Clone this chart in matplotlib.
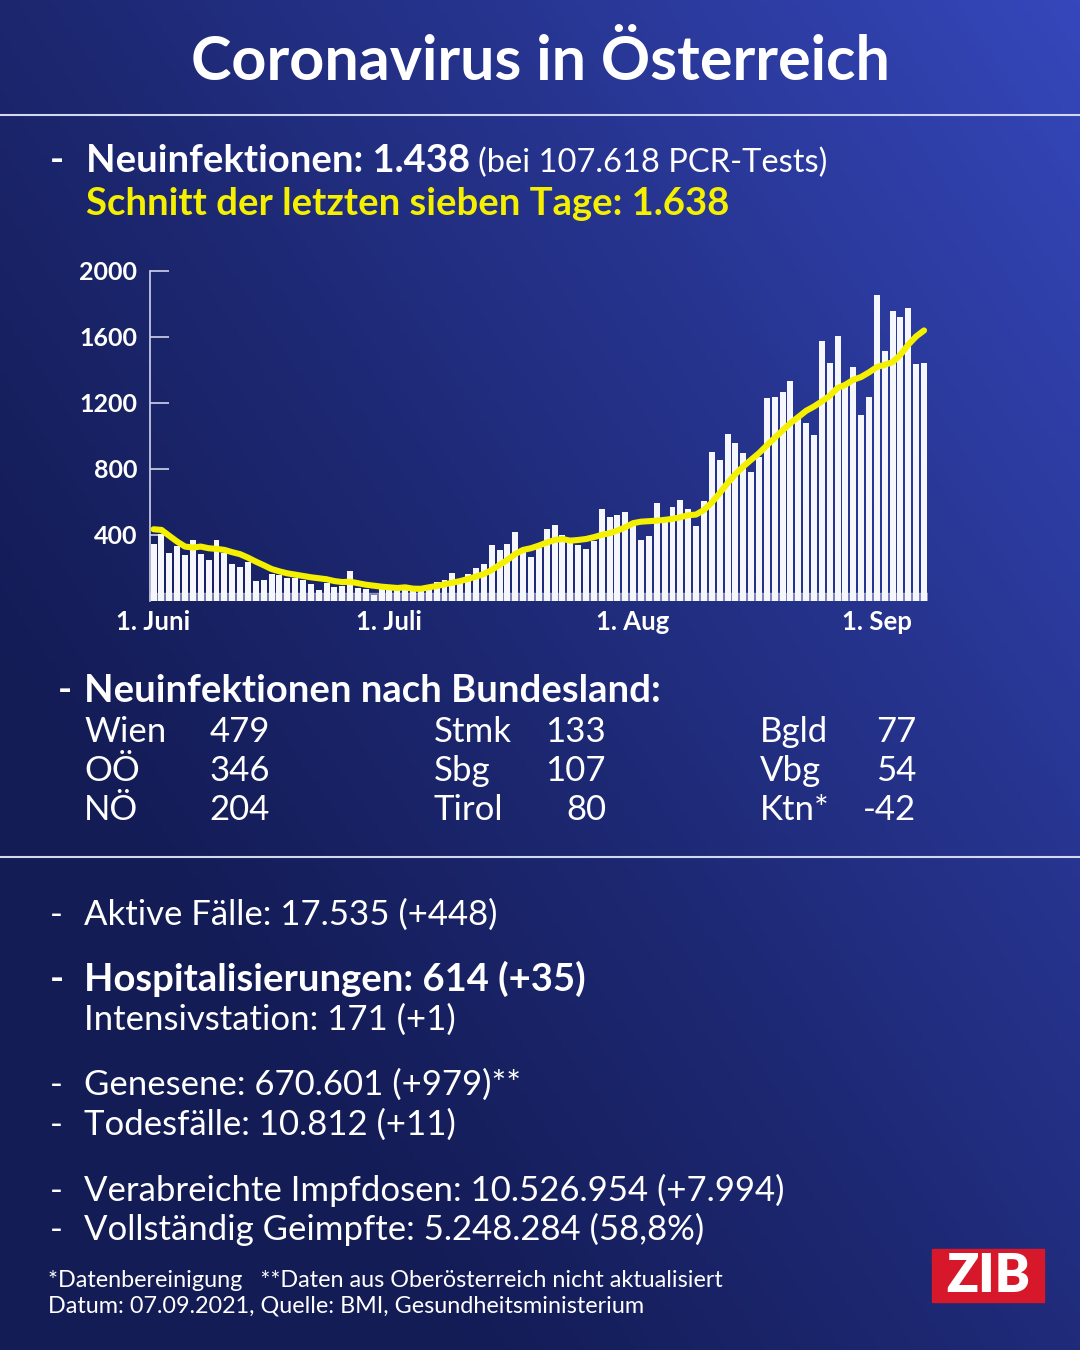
import numpy as np
import pandas as pd
import matplotlib
matplotlib.use("Agg")
import matplotlib.pyplot as plt
from matplotlib.patches import Rectangle

# daily new infections, 1 June - 7 September 2021
new_cases = [344, 403, 287, 334, 275, 366, 285, 249, 370, 287, 221, 206, 237, 117, 124, 160,
             158, 136, 140, 126, 99, 65, 109, 85, 91, 180, 79, 71, 33, 69, 71, 71, 95, 81,
             76, 95, 111, 126, 166, 134, 164, 196, 221, 336, 309, 346, 415, 308, 267, 318,
             435, 457, 399, 358, 336, 316, 362, 554, 506, 518, 540, 459, 368, 394, 595, 508,
             567, 609, 556, 453, 607, 904, 854, 1010, 955, 896, 779, 870, 1226, 1232, 1262,
             1333, 1107, 1080, 1005, 1576, 1442, 1604, 1299, 1418, 1125, 1234, 1851, 1513,
             1756, 1717, 1776, 1432, 1438]
# seven-day average (yellow line)
avg7 = [433, 429, 393, 358, 328, 322, 328, 318, 314, 308, 294, 282, 261, 237, 215, 192,
        178, 166, 158, 150, 142, 136, 130, 119, 113, 115, 106, 97, 91, 85, 81, 77, 81, 73,
        72, 81, 89, 99, 109, 119, 132, 146, 162, 186, 217, 247, 283, 308, 318, 334, 352,
        368, 374, 364, 368, 374, 385, 399, 409, 425, 445, 470, 479, 482, 485, 490, 496,
        506, 518, 522, 550, 595, 652, 712, 767, 813, 854, 894, 941, 987, 1032, 1076, 1113,
        1151, 1177, 1208, 1242, 1289, 1309, 1339, 1356, 1384, 1416, 1430, 1446, 1491,
        1552, 1602, 1638]
dates = pd.date_range("2021-06-01", periods=len(new_cases), freq="D")
tick_dates = pd.to_datetime(["2021-06-01", "2021-07-01", "2021-08-01", "2021-09-01"])
tick_labels = ["1. Juni", "1. Juli", "1. Aug", "1. Sep"]
y_ticks = [400, 800, 1200, 1600, 2000]

# cases by state
states_col1 = ["Wien", "OÖ", "NÖ"]
values_col1 = ["479", "346", "204"]
states_col2 = ["Stmk", "Sbg", "Tirol"]
values_col2 = ["133", "107", "80"]
states_col3 = ["Bgld", "Vbg", "Ktn*"]
values_col3 = ["77", "54", "-42"]

W, H = 1080, 1350
FONT = "Lato"
WHITE = "white"
YELLOW = "#f4f000"
REG = 25      # regular text size
BOLD = 27.5   # bold text size

fig = plt.figure(figsize=(W / 100, H / 100), dpi=100)

# background gradient
bg = fig.add_axes([0, 0, 1, 1])
gx, gy = np.meshgrid(np.linspace(0, 1, 300), np.linspace(0, 1, 375))
t = np.clip(0.6 * gx + 0.5 * (1 - gy) - 0.25, 0, 1) ** 1.15
dark = np.array([0x14, 0x1c, 0x56]) / 255
bright = np.array([0x3c, 0x50, 0xd0]) / 255
img = dark[None, None, :] + (bright - dark)[None, None, :] * t[..., None]
bg.imshow(img, extent=[0, W, H, 0], aspect="auto")
bg.set_xlim(0, W)
bg.set_ylim(H, 0)
bg.axis("off")


def txt(x, y, s, size=REG, weight="normal", color=WHITE, ha="left"):
    bg.text(x, y, s, fontsize=size, fontweight=weight, color=color, ha=ha,
            va="baseline", family=FONT)


# title + separators
txt(540, 80, "Coronavirus in Österreich", size=44, weight="bold", ha="center")
bg.plot([0, W], [115, 115], color="#d4d8ec", lw=1.5)
bg.plot([0, W], [857, 857], color="#d4d8ec", lw=1.5)

# headline numbers
txt(50, 172, "-", size=BOLD, weight="bold")
txt(86, 172, "Neuinfektionen: 1.438", size=BOLD, weight="bold")
txt(478, 172, "(bei 107.618 PCR-Tests)", size=23.5)
txt(86, 215, "Schnitt der letzten sieben Tage: 1.638", size=BOLD, weight="bold", color=YELLOW)

# chart
ax = fig.add_axes([150 / W, 1 - 600.7 / H, (928 - 150) / W, (600.7 - 270.7) / H])
ax.patch.set_alpha(0)
ax.bar(dates, new_cases, width=0.76, color="#f6f7fc", zorder=2)
ax.plot(dates, avg7, color=YELLOW, lw=4.4, zorder=3, solid_capstyle="round")
ax.axhspan(0, 45, color="#c5c9e4", alpha=0.55, zorder=1)
ax.set_ylim(0, 2000)
ax.set_xlim(dates[0] - pd.Timedelta(hours=11), dates[-1] + pd.Timedelta(hours=12))
ax.set_yticks(y_ticks)
ax.set_yticklabels([str(v) for v in y_ticks], fontsize=18, fontweight="bold",
                   color=WHITE, family=FONT)
ax.set_xticks(tick_dates)
ax.set_xticklabels(tick_labels, fontsize=18.5, fontweight="bold", color=WHITE, family=FONT)
ax.tick_params(axis="y", direction="in", length=13.5, width=1.2, colors="#d0d4ea", pad=9)
ax.tick_params(axis="x", length=0, pad=7)
for lab in ax.get_yticklabels() + ax.get_xticklabels():
    lab.set_color(WHITE)
for side in ["top", "right", "bottom"]:
    ax.spines[side].set_visible(False)
ax.spines["left"].set_color("#d0d4ea")
ax.spines["left"].set_linewidth(1.2)

# by state
txt(58, 702, "-", size=BOLD, weight="bold")
txt(84, 702, "Neuinfektionen nach Bundesland:", size=BOLD, weight="bold")
row_y = [742, 781, 820]
for names, vals, xn, xv in [(states_col1, values_col1, 84, 270),
                            (states_col2, values_col2, 434, 606),
                            (states_col3, values_col3, 760, 916)]:
    for yy, n, v in zip(row_y, names, vals):
        txt(xn, yy, n)
        txt(xv, yy, v, ha="right")

# details
lines = [
    (925, "Aktive Fälle: 17.535 (+448)", "normal", True),
    (991, "Hospitalisierungen: 614 (+35)", "bold", True),
    (1030, "Intensivstation: 171 (+1)", "normal", False),
    (1095, "Genesene: 670.601 (+979)**", "normal", True),
    (1135, "Todesfälle: 10.812 (+11)", "normal", True),
    (1201, "Verabreichte Impfdosen: 10.526.954 (+7.994)", "normal", True),
    (1240, "Vollständig Geimpfte: 5.248.284 (58,8%)", "normal", True),
]
for yy, s, w, dash in lines:
    size = BOLD if w == "bold" else REG
    if dash:
        txt(50, yy, "-", size=size, weight=w)
    txt(84, yy, s, size=size, weight=w)

# footnotes
txt(48, 1287, "*Datenbereinigung   **Daten aus Oberösterreich nicht aktualisiert", size=16.8)
txt(48, 1313, "Datum: 07.09.2021, Quelle: BMI, Gesundheitsministerium", size=16.8)

# ZIB logo
bg.add_patch(Rectangle((932, 1249), 112, 53, color="#d7182a"))
bg.text(988, 1277, "ZIB", fontsize=38, fontweight="heavy", color=WHITE, ha="center",
        va="center", family=FONT)

fig.savefig("out.png", dpi=100)
